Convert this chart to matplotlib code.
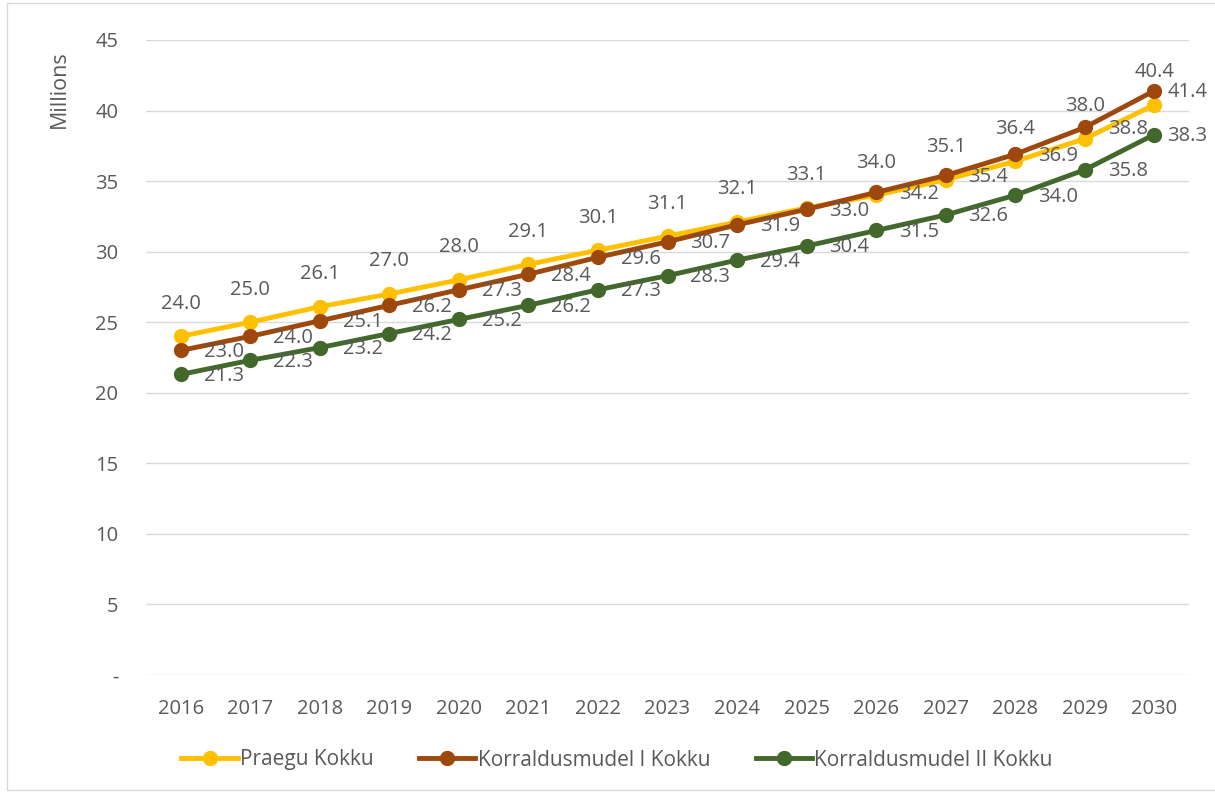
import matplotlib.pyplot as plt
from matplotlib.patches import Rectangle

plt.rcParams['font.family'] = ['Open Sans', 'DejaVu Sans']

years = [str(y) for y in range(2016, 2031)]
praegu = [24.0, 25.0, 26.1, 27.0, 28.0, 29.1, 30.1, 31.1, 32.1, 33.1, 34.0, 35.1, 36.4, 38.0, 40.4]
mudel1 = [23.0, 24.0, 25.1, 26.2, 27.3, 28.4, 29.6, 30.7, 31.9, 33.0, 34.2, 35.4, 36.9, 38.8, 41.4]
mudel2 = [21.3, 22.3, 23.2, 24.2, 25.2, 26.2, 27.3, 28.3, 29.4, 30.4, 31.5, 32.6, 34.0, 35.8, 38.3]

text_col = '#595959'
grid_col = '#d9d9d9'

fig = plt.figure(figsize=(12.15, 7.93), dpi=100)
ax = fig.add_axes([146/1215, 1 - 675/793, 1043/1215, 635/793])

x = list(range(len(years)))
series = [
    ('Praegu Kokku', praegu, '#FFC000', 'above'),
    ('Korraldusmudel I Kokku', mudel1, '#9E480E', 'right'),
    ('Korraldusmudel II Kokku', mudel2, '#43682B', 'right'),
]

for name, vals, col, pos in series:
    ax.plot(x, vals, color=col, lw=3.5, marker='o', ms=10, label=name, zorder=3)

# labels drawn after all lines so they sit on top
for name, vals, col, pos in series:
    for xi, v in zip(x, vals):
        if pos == 'above':
            ax.annotate(f'{v:.1f}', (xi, v), xytext=(0, 23.5), textcoords='offset points',
                        ha='center', va='center', fontsize=14.5, color=text_col, zorder=5)
        else:
            # last labels get pushed in so they stay inside the chart
            dx = 9.5 if xi == x[-1] else 16.5
            ax.annotate(f'{v:.1f}', (xi, v), xytext=(dx, -1), textcoords='offset points',
                        ha='left', va='center', fontsize=14.5, color=text_col, zorder=5)

ax.set_xlim(-0.5, len(years) - 0.5)
ax.set_ylim(0, 45)
ax.set_yticks(range(0, 46, 5))
ax.set_yticklabels(['-'] + [str(v) for v in range(5, 46, 5)])
ax.set_xticks(x)
ax.set_xticklabels(years)
ax.tick_params(axis='both', length=0, labelsize=14.5, colors=text_col)
ax.tick_params(axis='y', pad=20)
ax.tick_params(axis='x', pad=17)
ax.grid(axis='y', color=grid_col, lw=1)
ax.set_axisbelow(True)
for s in ax.spines.values():
    s.set_visible(False)
ax.set_ylabel('Millions', fontsize=15.5, color=text_col)
ax.yaxis.set_label_coords((70 - 146) / 1043, (675 - 89) / 635)

fig.legend(loc='center', bbox_to_anchor=(617/1215, 1 - 760/793), ncol=3, frameon=False,
           fontsize=15, labelcolor=text_col, handlelength=2.7, handletextpad=0.1,
           columnspacing=2.2)

fig.patches.append(Rectangle((0.006, 0.004), 1.0, 0.992, transform=fig.transFigure,
                             fill=False, ec='#d9d9d9', lw=1))

fig.savefig('out.png', dpi=100)
